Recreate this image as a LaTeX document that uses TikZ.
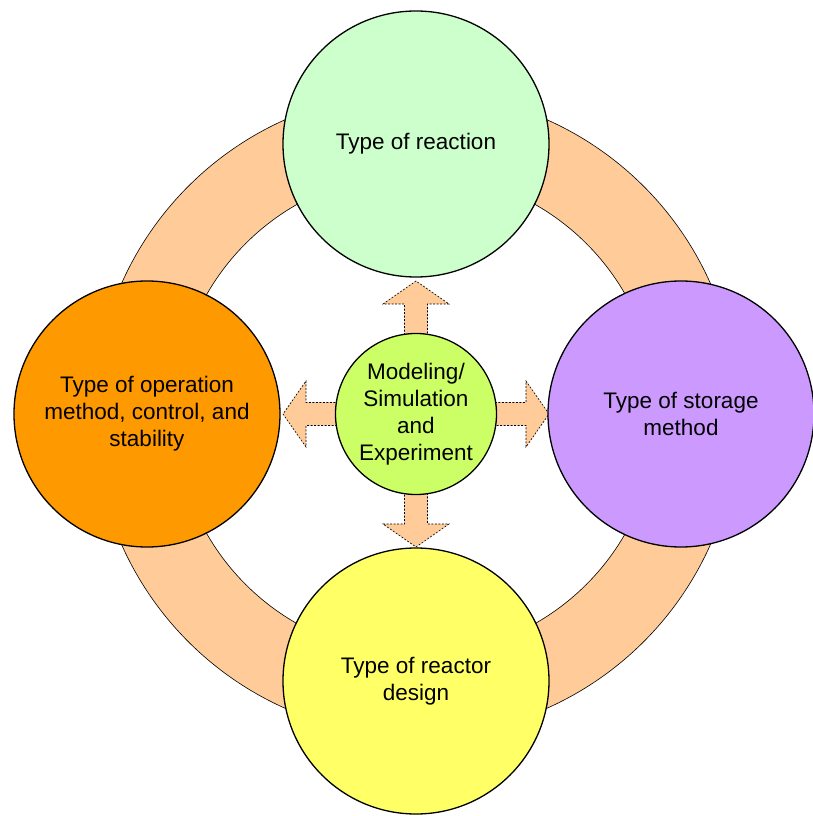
\documentclass[tikz,border=0pt]{standalone}
\usepackage{fontspec}
\setmainfont{Liberation Sans}
\usepackage{tikz}
\usetikzlibrary{positioning}
\definecolor{ringpeach}{HTML}{FFCC99}
\definecolor{reactgreen}{HTML}{CCFFCC}
\definecolor{operorange}{HTML}{FF9900}
\definecolor{storeviolet}{HTML}{CC99FF}
\definecolor{designyellow}{HTML}{FFFF66}
\definecolor{modellime}{HTML}{CCFF66}

\begin{document}
\begin{tikzpicture}[x=1pt,y=1pt,
		topic/.style={circle, draw, line width=1.3pt, minimum size=266pt, inner sep=0pt, align=center, font=\fontsize{22.5}{27}\selectfont},
		hub/.style={topic, minimum size=161pt},
		blockarrow/.style={fill=ringpeach, draw, line width=.6pt, dash pattern=on 2pt off 1.5pt}]
		\useasboundingbox (-416,-402) rectangle (397,414);
		% ring behind everything
		\draw[fill=ringpeach, even odd rule, line width=.6pt] (0,0) circle (322) (0,0) circle (241);
		\foreach \a in {0,90,180,270}{
			\draw[blockarrow, rotate=\a] (70,-11.5) -- (110,-11.5) -- (110,-33) -- (133,0) -- (110,33) -- (110,11.5) -- (70,11.5);
		}
		\node[topic, fill=reactgreen] (reaction) at (0,270) {Type of reaction};
		\node[topic, fill=operorange] (operation) at (-269,0) {Type of operation\\method, control, and\\stability};
		\node[topic, fill=storeviolet] (storage) at (265,0) {Type of storage\\method};
		\node[topic, fill=designyellow] (design) at (0,-267) {Type of reactor\\design};
		\node[hub, fill=modellime] (model) at (0,0) {Modeling/\\Simulation\\and\\Experiment};
\end{tikzpicture}
\end{document}
